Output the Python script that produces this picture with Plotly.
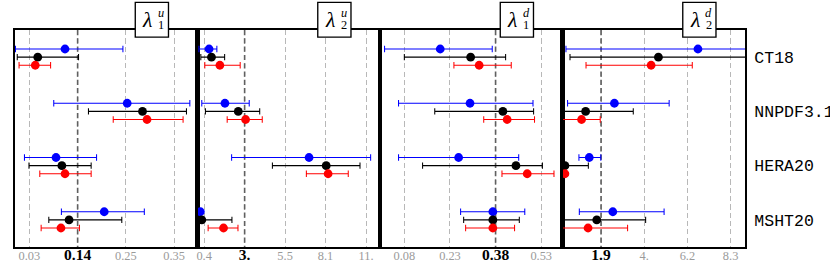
import plotly.graph_objects as go

# ---------------- data ----------------
pdf_names = ["CT18", "NNPDF3.1", "HERA20", "MSHT20"]
series_colors = {"blue": "#0000FF", "black": "#000000", "red": "#FF0000"}
row_offsets = {"blue": -0.15, "black": 0.0, "red": 0.15}

# each entry: (central, low, high) per PDF set
lam1u_blue = [(0.111, 0.001, 0.2395), (0.249, 0.086, 0.388), (0.091, 0.021, 0.181), (0.198, 0.103, 0.287)]
lam1u_black = [(0.0505, 0.005, 0.141), (0.283, 0.163, 0.3805), (0.104, 0.031, 0.169), (0.120, 0.075, 0.237)]
lam1u_red = [(0.045, 0.009, 0.079), (0.293, 0.218, 0.373), (0.111, 0.055, 0.169), (0.102, 0.058, 0.143)]

lam2u_blue = [(0.73, 0.09, 1.22), (1.73, 0.27, 3.26), (7.03, 2.15, 10.91), (0.18, 0.08, 0.28)]
lam2u_black = [(0.88, 0.21, 1.71), (2.57, 0.50, 3.92), (8.11, 4.72, 10.24), (0.27, 0.0, 2.17)]
lam2u_red = [(1.41, 0.46, 2.69), (3.03, 1.87, 4.08), (8.23, 6.86, 9.50), (1.64, 0.67, 2.55)]

lam1d_blue = [(0.198, 0.015, 0.369), (0.296, 0.061, 0.503), (0.2585, 0.061, 0.456), (0.371, 0.265, 0.476)]
lam1d_black = [(0.298, 0.080, 0.413), (0.404, 0.180, 0.505), (0.447, 0.140, 0.534), (0.371, 0.275, 0.458)]
lam1d_red = [(0.326, 0.243, 0.4315), (0.418, 0.341, 0.508), (0.484, 0.401, 0.572), (0.371, 0.2815, 0.4424)]

lam2d_blue = [(6.68, 0.17, 9.6), (2.56, 0.25, 5.26), (1.32, 0.81, 1.89), (2.48, 0.83, 5.01)]
lam2d_black = [(4.73, 0.37, 9.5), (1.14, -0.3, 3.49), (0.12, -0.3, 1.275), (1.69, -0.3, 4.10)]
lam2d_red = [(4.37, 1.16, 6.40), (0.94, -0.3, 1.86), (0.12, -0.4, 0.17), (1.26, -0.3, 3.21)]

tickvals_1 = [0.032, 0.139, 0.246, 0.353]
ticktext_1 = ["0.03", "0.14", "0.25", "0.35"]
tickvals_2 = [0.42, 2.97, 5.52, 8.07, 10.62]
ticktext_2 = ["0.4", "3.", "5.5", "8.1", "11."]
tickvals_3 = [0.08, 0.23, 0.38, 0.53]
ticktext_3 = ["0.08", "0.23", "0.38", "0.53"]
tickvals_4 = [1.9, 4.03, 6.16, 8.29]
ticktext_4 = ["1.9", "4.", "6.2", "8.3"]

central_values = [0.139, 2.97, 0.38, 1.9]
x_ranges = [[0, 0.405], [0, 11.5], [0, 0.6], [0, 9.0]]
title_sym = ["λ", "λ", "λ", "λ"]
title_sup = ["u", "u", "d", "d"]
title_sub = ["1", "2", "1", "2"]

panels = [
    {"blue": lam1u_blue, "black": lam1u_black, "red": lam1u_red,
     "tv": tickvals_1, "tt": ticktext_1},
    {"blue": lam2u_blue, "black": lam2u_black, "red": lam2u_red,
     "tv": tickvals_2, "tt": ticktext_2},
    {"blue": lam1d_blue, "black": lam1d_black, "red": lam1d_red,
     "tv": tickvals_3, "tt": ticktext_3},
    {"blue": lam2d_blue, "black": lam2d_black, "red": lam2d_red,
     "tv": tickvals_4, "tt": ticktext_4},
]

# ---------------- page geometry ----------------
# The photographed viewport is fitted into 830x262 with these factors.
SX, SY = 0.982, 0.955
SF = (SX * SY) ** 0.5
FIG_W, FIG_H = 846, 275


def X(v):
    return v / SX


def Y(v):
    return v / SY


def F(v):
    return v / SF


# ---------------- figure ----------------
fig = go.Figure()
serif = "Liberation Serif"
vdash = f"{Y(5):.1f}px,{Y(3):.1f}px"

for i, p in enumerate(panels):
    k = i + 1
    xa = "x" if k == 1 else f"x{k}"
    ya = "y" if k == 1 else f"y{k}"
    cval = central_values[i]

    # central dashed line (drawn from the central value)
    fig.add_trace(go.Scatter(
        x=[cval, cval], y=[-0.5, 3.5], xaxis=xa, yaxis=ya, mode="lines",
        line=dict(color="#606060", width=X(1.6), dash=vdash),
        showlegend=False, hoverinfo="skip"))

    for s in ["blue", "black", "red"]:
        vals = p[s]
        xs = [v[0] for v in vals]
        ys = [j + row_offsets[s] for j in range(len(vals))]
        plus = [v[2] - v[0] for v in vals]
        minus = [v[0] - v[1] for v in vals]
        fig.add_trace(go.Scatter(
            x=xs, y=ys, xaxis=xa, yaxis=ya, mode="markers",
            marker=dict(color=series_colors[s], size=F(8.5)),
            error_x=dict(type="data", symmetric=False, array=plus, arrayminus=minus,
                         color=series_colors[s], thickness=Y(1), width=Y(3)),
            showlegend=False, cliponaxis=True, hoverinfo="skip"))

    # tick labels: centre bold black, others gray
    ttext = []
    for tv, tt in zip(p["tv"], p["tt"]):
        if abs(tv - cval) < 1e-9:
            ttext.append(f"<span style='color:#000000;font-size:{F(15):.1f}px'><b>{tt}</b></span>")
        else:
            ttext.append(tt)

    dom = [0.25 * i, 0.25 * (i + 1)]
    xkey = "xaxis" if k == 1 else f"xaxis{k}"
    ykey = "yaxis" if k == 1 else f"yaxis{k}"
    fig.layout[xkey] = dict(
        domain=dom, anchor=ya, range=x_ranges[i],
        tickvals=p["tv"], ticktext=ttext,
        tickfont=dict(family=serif, size=F(12), color="#9a9a9a"),
        ticklabelstandoff=-4,
        showgrid=True, gridcolor="#b8b8b8", gridwidth=X(1), griddash=vdash,
        zeroline=False, showline=True, linecolor="black", linewidth=Y(2), mirror=True,
        ticks="", fixedrange=True)
    ydict = dict(
        domain=[0, 1], anchor=xa, range=[3.5, -0.5],
        showgrid=False, zeroline=False, showline=True, linecolor="black",
        linewidth=X(2), mirror=True, ticks="", fixedrange=True,
        tickvals=list(range(len(pdf_names))), ticktext=pdf_names,
        showticklabels=False)
    if k == 4:
        ydict.update(side="right", showticklabels=True,
                     tickfont=dict(family="Liberation Mono", size=F(16), color="black"),
                     ticklabelstandoff=4)
    fig.layout[ykey] = ydict

    # title box
    fig.add_shape(type="rect", xref=f"{xa} domain", yref=f"{ya} domain",
                  x0=0.659, x1=0.841, y0=0.967, y1=1.127,
                  fillcolor="white", line=dict(color="black", width=F(1.3)), layer="above")
    fig.add_annotation(xref=f"{xa} domain", yref=f"{ya} domain", x=0.725, y=1.045,
                       text=f"<i>{title_sym[i]}</i>", showarrow=False,
                       font=dict(family=serif, size=F(21), color="black"),
                       xanchor="center", yanchor="middle")
    fig.add_annotation(xref=f"{xa} domain", yref=f"{ya} domain", x=0.8, y=1.078,
                       text=f"<i>{title_sup[i]}</i>", showarrow=False,
                       font=dict(family=serif, size=F(12), color="black"),
                       xanchor="center", yanchor="middle")
    fig.add_annotation(xref=f"{xa} domain", yref=f"{ya} domain", x=0.8, y=1.025,
                       text=title_sub[i], showarrow=False,
                       font=dict(family=serif, size=F(12), color="black"),
                       xanchor="center", yanchor="middle")

fig.update_layout(
    width=FIG_W, height=FIG_H,
    margin=dict(l=X(15), r=FIG_W - X(741), t=Y(29), b=FIG_H - Y(242)),
    plot_bgcolor="white", paper_bgcolor="white",
    showlegend=False,
)

fig.write_html(
    "out.html",
    config={"displayModeBar": False, "staticPlot": True},
    post_script=("document.documentElement.style.overflow='hidden';"
                 "document.body.style.margin='0px';"
                 "document.body.style.overflow='hidden';"),
)
